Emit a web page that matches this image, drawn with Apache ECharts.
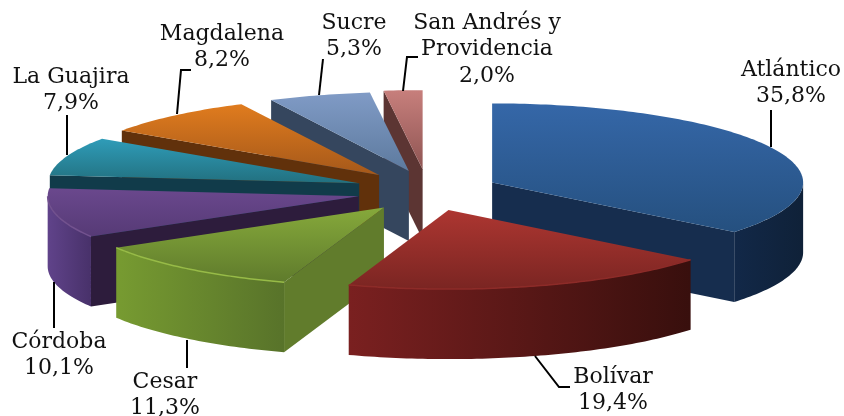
<!DOCTYPE html>
<html>
<head>
<meta charset="utf-8">
<style>html,body{margin:0;padding:0;background:#fff}#c{width:844px;height:416px}</style>
<script src="https://cdn.jsdelivr.net/npm/echarts@6/dist/echarts.min.js"></script>
</head>
<body>
<div id="c"></div>
<script>
// Data
const names = ['Atlántico','Bolívar','Cesar','Córdoba','La Guajira','Magdalena','Sucre','San Andrés y\nProvidencia'];
const values = [35.8,19.4,11.3,10.1,7.9,8.2,5.3,2.0];

// Layout of the tilted pie
const cx = 427, cy = 189, rx = 311, ry = 79, depth = 70, explodeX = 0.225, explodeY = 0.252;
const drawOrder = [0,7,6,5,4,3,2,1];
const nudge = [[2,2],[2,2],[1,3],[0,3],[-2,1],[-2,1],[2,1],[0,0]];

// Styles
const topCols = [['#3567a8','#25507f'],['#ad3631','#7a2522'],['#86a93b','#5f7b2c'],['#6a488d','#563a76'],
  ['#2f9cb8','#22707f'],['#e07c1e','#a5581a'],['#809bc6','#5d7a9e'],['#c77f7c','#8f5553']];
const sideCols = ['#162d4e','#3a1210','#617c2c','#2d1c3c','#113b4a','#61310b','#35465e','#5c3533'];
const wallCols = [['#122848','#0f2138'],['#7a2020','#380f0d'],['#779b31','#58732a'],['#60438a','#48316a'],
  ['#113b4a','#113b4a'],['#61310b','#61310b'],['#35465e','#35465e'],['#5c3533','#5c3533']];
const rimCols = [null,'#8d2b28','#97bb47','#73528f',null,null,null,null];

// Labels: text block centre, first baseline-centre y, line step, leader polyline
const labelPos = [[791,70],[613,377],[165,382],[59,342],[71,77],[222,34],[354,23],[487,23]];
const leaders = [
  [[771,110],[771,147]],
  [[535,356],[559,387],[570,387]],
  [[187,340],[187,368]],
  [[54,282],[54,328]],
  [[67,115],[67,155]],
  [[191,70],[181,70],[177,114]],
  [[323,59],[319,95]],
  [[418,57],[407,57],[403,91]]
];

const total = values.reduce((a,b)=>a+b,0);
const starts = []; let acc = 0;
values.forEach(v=>{starts.push(acc); acc += v/total*360;});
const rad = d => d*Math.PI/180;
const pt = (a,o) => [o[0]+rx*Math.sin(rad(a)), o[1]-ry*Math.cos(rad(a))];
const down = p => [p[0],p[1]+depth];
const vGrad = c => new echarts.graphic.LinearGradient(0,0,0,1,[{offset:0,color:c[0]},{offset:1,color:c[1]}]);
const hGrad = c => new echarts.graphic.LinearGradient(0,0,1,0,[{offset:0,color:c[0]},{offset:1,color:c[1]}]);

function arc(a0,a1){ const r=[]; const n=Math.max(2,Math.ceil(Math.abs(a1-a0))); for(let k=0;k<=n;k++) r.push(a0+(a1-a0)*k/n); return r; }

function renderSlice(params, api){
  const i = api.value(0);
  const a0 = starts[i], a1 = a0 + values[i]/total*360, m = (a0+a1)/2;
  const o = [cx + explodeX*rx*Math.sin(rad(m)) + nudge[i][0], cy - explodeY*ry*Math.cos(rad(m)) + nudge[i][1]];
  const kids = [];
  const poly = (points,fill) => kids.push({type:'polygon',shape:{points},style:{fill,stroke:null}});
  const radial = a => { const p = pt(a,o); poly([o,p,down(p),down(o)], sideCols[i]); };
  if (Math.sin(rad(a0)) < -1e-6) radial(a0);
  if (Math.sin(rad(a1)) > 1e-6) radial(a1);
  const w0 = Math.max(a0,90), w1 = Math.min(a1,270);
  if (w1 > w0) {
    const rim = arc(w0,w1).map(a=>pt(a,o));
    poly(rim.concat(rim.map(down).reverse()), hGrad(wallCols[i]));
  }
  const topPts = [o].concat(arc(a0,a1).map(a=>pt(a,o)));
  poly(topPts, vGrad(topCols[i]));
  if (rimCols[i] && w1 > w0) {
    kids.push({type:'polyline',shape:{points:arc(w0,w1).map(a=>pt(a,o))},style:{stroke:rimCols[i],lineWidth:1.5,fill:null}});
  }
  return {type:'group',children:kids};
}

function renderLabel(params, api){
  const i = api.value(0);
  const lines = names[i].split('\n').concat(values[i].toFixed(1).replace('.',',')+'%');
  const kids = [{type:'polyline',shape:{points:leaders[i]},style:{stroke:'#000',lineWidth:2,fill:null}}];
  lines.forEach((t,k)=>kids.push({type:'text',style:{text:t,x:labelPos[i][0],y:labelPos[i][1]+k*26.5,
    align:'center',verticalAlign:'middle',fill:'#111',fontFamily:'"DejaVu Serif"',fontSize:22}}));
  return {type:'group',children:kids};
}

const chart = echarts.init(document.getElementById('c'),null,{renderer:'canvas'});
chart.setOption({
  animation:false,
  backgroundColor:'#fff',
  series:[
    {type:'custom',coordinateSystem:'none',renderItem:renderSlice,data:drawOrder.map(i=>[i]),z:2,silent:true},
    {type:'custom',coordinateSystem:'none',renderItem:renderLabel,data:values.map((v,i)=>[i]),z:3,silent:true}
  ]
});
</script>
</body>
</html>
